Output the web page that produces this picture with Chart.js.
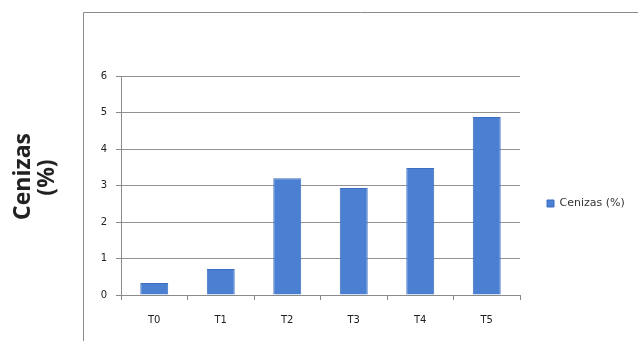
<!DOCTYPE html>
<html>
<head>
<meta charset="utf-8">
<script src="https://cdn.jsdelivr.net/npm/chart.js@4"></script>
<style>
  html, body { margin: 0; padding: 0; background: #fff; }
  #wrap { width: 638px; height: 341px; position: relative; }
</style>
</head>
<body>
<div id="wrap"><canvas id="cenizasChart"></canvas></div>
<script>
// Contenido de cenizas por tratamiento
const tratamientos = ['T0', 'T1', 'T2', 'T3', 'T4', 'T5'];
const cenizas = [0.33, 0.71, 3.2, 2.93, 3.48, 4.88];
const serieNombre = 'Cenizas (%)';
const ejeY = ['Cenizas', '(%)'];

const AZUL = '#4a7fd2';
const FUENTE = 'Verdana, "DejaVu Sans", sans-serif';

const marco = {
    id: 'marco',
    beforeUpdate(chart) {
        // la leyenda ocupa siempre el mismo ancho a la derecha
        const lg = chart.legend;
        if (lg && !lg._anchoFijo) {
            const fit = lg.fit.bind(lg);
            lg.fit = function () { fit(); this.width = 118; };
            lg._anchoFijo = true;
        }
    },
    afterLayout(chart) {
        // subir un poco la leyenda
        if (chart.legend) chart.legend.top -= 10;
    },
    beforeDraw(chart) {
        // borde izquierdo y superior del área del gráfico
        const { ctx } = chart;
        ctx.save();
        ctx.strokeStyle = '#8a8a8a';
        ctx.lineWidth = 1;
        ctx.beginPath();
        ctx.moveTo(83.5, 341);
        ctx.lineTo(83.5, 12.5);
        ctx.lineTo(638, 12.5);
        ctx.stroke();
        ctx.restore();
    },
    afterDraw(chart) {
        // título del eje Y en dos líneas, girado
        const { ctx } = chart;
        ctx.save();
        ctx.fillStyle = '#222';
        ctx.font = 'bold 23px "Open Sans", sans-serif';
        ctx.textAlign = 'center';
        ctx.textBaseline = 'alphabetic';
        const pos = [[30, 176.5], [54, 177.5]];
        ejeY.forEach((txt, i) => {
            ctx.save();
            ctx.translate(pos[i][0], pos[i][1]);
            ctx.rotate(-Math.PI / 2);
            ctx.fillText(txt, 0, 0);
            ctx.restore();
        });
        ctx.restore();
    }
};

new Chart(document.getElementById('cenizasChart'), {
    type: 'bar',
    data: {
        labels: tratamientos,
        datasets: [{
            label: serieNombre,
            data: cenizas,
            backgroundColor: AZUL,
            borderColor: '#3d6fc0',
            borderWidth: 1,
            categoryPercentage: 0.84,
            barPercentage: 0.5
        }]
    },
    options: {
        responsive: true,
        maintainAspectRatio: false,
        animation: false,
        layout: { padding: { top: 76, right: 0, bottom: 0, left: 0 } },
        plugins: {
            tooltip: { enabled: false },
            legend: {
                position: 'right',
                fullSize: true,
                labels: {
                    boxWidth: 7,
                    boxHeight: 7,
                    padding: 27,
                    color: '#333',
                    font: { family: FUENTE, size: 11 }
                }
            }
        },
        scales: {
            y: {
                min: 0,
                max: 6,
                ticks: { stepSize: 1, color: '#222', padding: 9, font: { family: FUENTE, size: 10 } },
                grid: { color: '#939393', tickLength: 5, tickColor: '#8a8a8a' },
                border: { color: '#8a8a8a' },
                afterFit(scale) { scale.width = 121; }
            },
            x: {
                ticks: { color: '#222', padding: 14, font: { family: FUENTE, size: 10 } },
                grid: { drawOnChartArea: false, tickLength: 5, color: '#8a8a8a' },
                border: { color: '#8a8a8a' },
                afterFit(scale) { scale.height = 46; }
            }
        }
    },
    plugins: [marco]
});
</script>
</body>
</html>
